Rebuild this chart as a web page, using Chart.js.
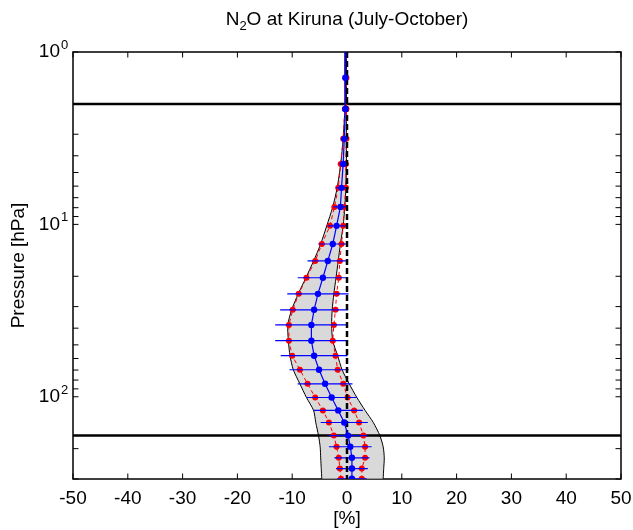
<!DOCTYPE html>
<html lang="en">
<head>
  <meta charset="UTF-8">
  <title>N2O at Kiruna (July-October)</title>
  <script src="https://cdn.jsdelivr.net/npm/chart.js"></script>
  <style>
    body { margin: 0; padding: 0; background: #fff; }
    canvas { display: block; }
  </style>
</head>
<body>
  <canvas id="profileChart" width="633" height="530"></canvas>

  <script>
    // pressure levels [hPa], top to bottom
    const pressure = [0.95, 1.41, 2.14, 3.19, 4.46, 6.14, 7.92, 10.2, 13.0, 16.3, 20.4, 25.3, 31.3,
                      38.3, 47.3, 57.8, 69.7, 84.1, 101, 120, 141, 168, 195, 226, 261, 299];

    // mean relative difference [%] and its error bar half width
    const meanDiff = [-0.2, -0.3, -0.3, -0.5, -0.7, -1.0, -1.2, -1.9, -2.6, -3.5, -4.4, -5.3, -6.0,
                      -6.5, -6.5, -6.0, -5.1, -4.0, -2.8, -1.6, -0.5, 0.2, 0.6, 0.9, 0.9, 0.9];
    const meanErr  = [0.2, 0.3, 0.3, 0.5, 0.7, 1.0, 1.3, 1.6, 2.6, 3.7, 4.6, 5.6, 6.2,
                      6.6, 6.6, 6.1, 5.4, 5.0, 4.6, 4.5, 4.3, 3.5, 3.9, 3.2, 2.9, 2.7];

    // red profiles (mean -/+ spread) and their small error bars
    const redLow  = [-0.3, -0.3, -0.4, -0.7, -1.15, -1.6, -2.3, -3.1, -4.6, -5.8, -7.4, -8.8, -9.9,
                     -10.6, -10.6, -10.0, -8.6, -7.2, -5.8, -4.4, -3.3, -2.4, -1.9, -1.5, -1.3, -1.1];
    const redHigh = [-0.1, -0.1, -0.1, -0.1, -0.2, -0.2, -0.5, -0.7, -1.0, -1.3, -1.5, -1.9, -2.1,
                     -2.4, -2.6, -2.1, -1.7, -0.7, 0.1, 1.3, 2.2, 3.0, 3.3, 3.3, 2.7, 2.7];
    const redErr  = [0.1, 0.1, 0.2, 0.3, 0.4, 0.4, 0.5, 0.5, 0.6, 0.6, 0.6, 0.6, 0.6,
                     0.6, 0.6, 0.6, 0.6, 0.6, 0.6, 0.6, 0.6, 0.6, 0.6, 0.6, 0.6, 0.6];

    // grey envelope
    const envLow  = [-0.4, -0.4, -0.4, -0.7, -1.15, -1.8, -2.6, -3.7, -4.8, -6.1, -7.5, -8.9, -10.1,
                     -10.8, -10.7, -10.4, -9.8, -8.6, -7.4, -6.1, -5.7, -5.2, -4.9, -4.8, -4.7, -4.6];
    const envHigh = [-0.1, -0.1, -0.1, -0.1, -0.1, -0.2, -0.4, -0.7, -1.2, -1.6, -2.0, -2.4, -2.7,
                     -2.8, -2.6, -1.7, -0.9, 0.4, 1.8, 3.3, 4.8, 6.0, 6.6, 6.8, 6.7, 6.6];

    // horizontal reference levels [hPa]
    const refLevels = [2, 168];

    // y axis decade labels (exponents of 10)
    const yDecades = [0, 1, 2];
    const xTickValues = [-50, -40, -30, -20, -10, 0, 10, 20, 30, 40, 50];

    const FONT = 'Arial, "Liberation Sans", sans-serif';
    Chart.defaults.font.family = FONT;
    Chart.defaults.color = '#000';

    function profile(values) {
      return pressure.map((p, i) => ({ x: values[i], y: p }));
    }

    function errorBars(center, err) {
      const pts = [];
      pressure.forEach((p, i) => {
        pts.push({ x: center[i] - err[i], y: p });
        pts.push({ x: center[i] + err[i], y: p });
        pts.push({ x: null, y: p });
      });
      return pts;
    }

    const lineBase = { pointRadius: 0, tension: 0, fill: false, spanGaps: false };

    const datasets = [
      { ...lineBase, data: profile(envLow), borderColor: '#000', borderWidth: 1,
        fill: '+1', backgroundColor: '#d9d9d9', tension: 0.25, order: 10 },
      { ...lineBase, data: profile(envHigh), borderColor: '#000', borderWidth: 1,
        tension: 0.25, order: 9 },
      ...refLevels.map(p => ({ ...lineBase, data: [{ x: -50, y: p }, { x: 50, y: p }],
        borderColor: '#000', borderWidth: 2.5, order: 8 })),
      { ...lineBase, data: profile(redLow), borderColor: '#ff0000', borderWidth: 1,
        borderDash: [4, 3], pointRadius: 3, pointBackgroundColor: '#ff0000',
        pointBorderColor: '#ff0000', pointBorderWidth: 0, order: 7 },
      { ...lineBase, data: profile(redHigh), borderColor: '#ff0000', borderWidth: 1,
        borderDash: [4, 3], pointRadius: 3, pointBackgroundColor: '#ff0000',
        pointBorderColor: '#ff0000', pointBorderWidth: 0, order: 7 },
      { ...lineBase, data: errorBars(redLow, redErr), borderColor: '#ff0000', borderWidth: 1.2, order: 6 },
      { ...lineBase, data: errorBars(redHigh, redErr), borderColor: '#ff0000', borderWidth: 1.2, order: 6 },
      { ...lineBase, data: errorBars(meanDiff, meanErr), borderColor: '#0000ff', borderWidth: 1.2, order: 5 },
      { ...lineBase, data: [{ x: 0, y: 1 }, { x: 0, y: 300 }], borderColor: '#000',
        borderWidth: 2.5, borderDash: [6, 3], order: 4 },
      { ...lineBase, data: profile(meanDiff), borderColor: '#0000ff', borderWidth: 1.2,
        pointRadius: 3.2, pointBackgroundColor: '#0000ff', pointBorderColor: '#0000ff',
        pointBorderWidth: 0, order: 3 }
    ];

    // MATLAB style box with inward ticks, superscript decade labels and the title
    const axesBox = {
      id: 'axesBox',
      beforeDatasetsDraw(chart) {
        const { ctx, chartArea: a, scales: { x, y } } = chart;
        const len = 5.5;
        ctx.save();
        ctx.strokeStyle = '#000';
        ctx.lineWidth = 1;
        ctx.beginPath();
        xTickValues.forEach(v => {
          const px = x.getPixelForValue(v);
          ctx.moveTo(px, a.bottom); ctx.lineTo(px, a.bottom - len);
          ctx.moveTo(px, a.top); ctx.lineTo(px, a.top + len);
        });
        yDecades.forEach(e => {
          for (let m = 1; m <= 9; m++) {
            const v = m * Math.pow(10, e);
            if (v > y.max) break;
            const py = y.getPixelForValue(v);
            ctx.moveTo(a.left, py); ctx.lineTo(a.left + len, py);
            ctx.moveTo(a.right, py); ctx.lineTo(a.right - len, py);
          }
        });
        ctx.stroke();
        ctx.lineWidth = 1.5;
        ctx.strokeRect(a.left, a.top, a.width, a.height);
        ctx.restore();
      },
      afterDraw(chart) {
        const { ctx, chartArea: a, scales: { y } } = chart;
        ctx.save();
        ctx.fillStyle = '#000';

        // decade labels 10^n
        yDecades.forEach(e => {
          const py = y.getPixelForValue(Math.pow(10, e));
          ctx.font = '19px ' + FONT;
          ctx.textAlign = 'right';
          ctx.textBaseline = 'middle';
          ctx.fillText('10', a.left - 13, py);
          ctx.font = '13px ' + FONT;
          ctx.textAlign = 'left';
          ctx.textBaseline = 'alphabetic';
          ctx.fillText(String(e), a.left - 12, py - 3);
        });

        // title with subscript
        const big = '19px ' + FONT, small = '13px ' + FONT;
        const parts = [['N', big, 0], ['2', small, 5], ['O at Kiruna (July-October)', big, 0]];
        let total = 0;
        parts.forEach(([t, f]) => { ctx.font = f; total += ctx.measureText(t).width; });
        let cx = (a.left + a.right) / 2 - total / 2;
        ctx.textAlign = 'left';
        ctx.textBaseline = 'alphabetic';
        parts.forEach(([t, f, dy]) => {
          ctx.font = f;
          ctx.fillText(t, cx, 25 + dy);
          cx += ctx.measureText(t).width;
        });
        ctx.restore();
      }
    };

    new Chart(document.getElementById('profileChart').getContext('2d'), {
      type: 'line',
      data: { datasets: datasets },
      options: {
        indexAxis: 'y',
        responsive: false,
        animation: false,
        layout: { padding: { top: 52, right: 12, left: 0, bottom: 0 } },
        scales: {
          x: {
            type: 'linear',
            position: 'bottom',
            min: -50,
            max: 50,
            grid: { display: false, drawTicks: false },
            border: { display: false },
            ticks: { stepSize: 10, padding: 8, font: { size: 19 }, color: '#000', maxRotation: 0 },
            title: { display: true, text: '[%]', font: { size: 19 }, color: '#000', padding: { top: 0, bottom: 0 } },
            afterFit: s => { s.height = 51; s.paddingLeft = 0; s.paddingRight = 0; }
          },
          y: {
            type: 'logarithmic',
            position: 'left',
            reverse: true,
            min: 1,
            max: 300,
            grid: { display: false, drawTicks: false },
            border: { display: false },
            ticks: { display: false },
            title: { display: true, text: 'Pressure [hPa]', font: { size: 19 }, color: '#000', padding: { top: 7, bottom: 0 } },
            afterFit: s => { s.width = 73; s.paddingTop = 0; s.paddingBottom = 0; }
          }
        },
        plugins: {
          legend: { display: false },
          tooltip: { enabled: false },
          title: { display: false }
        }
      },
      plugins: [axesBox]
    });
  </script>
</body>
</html>
